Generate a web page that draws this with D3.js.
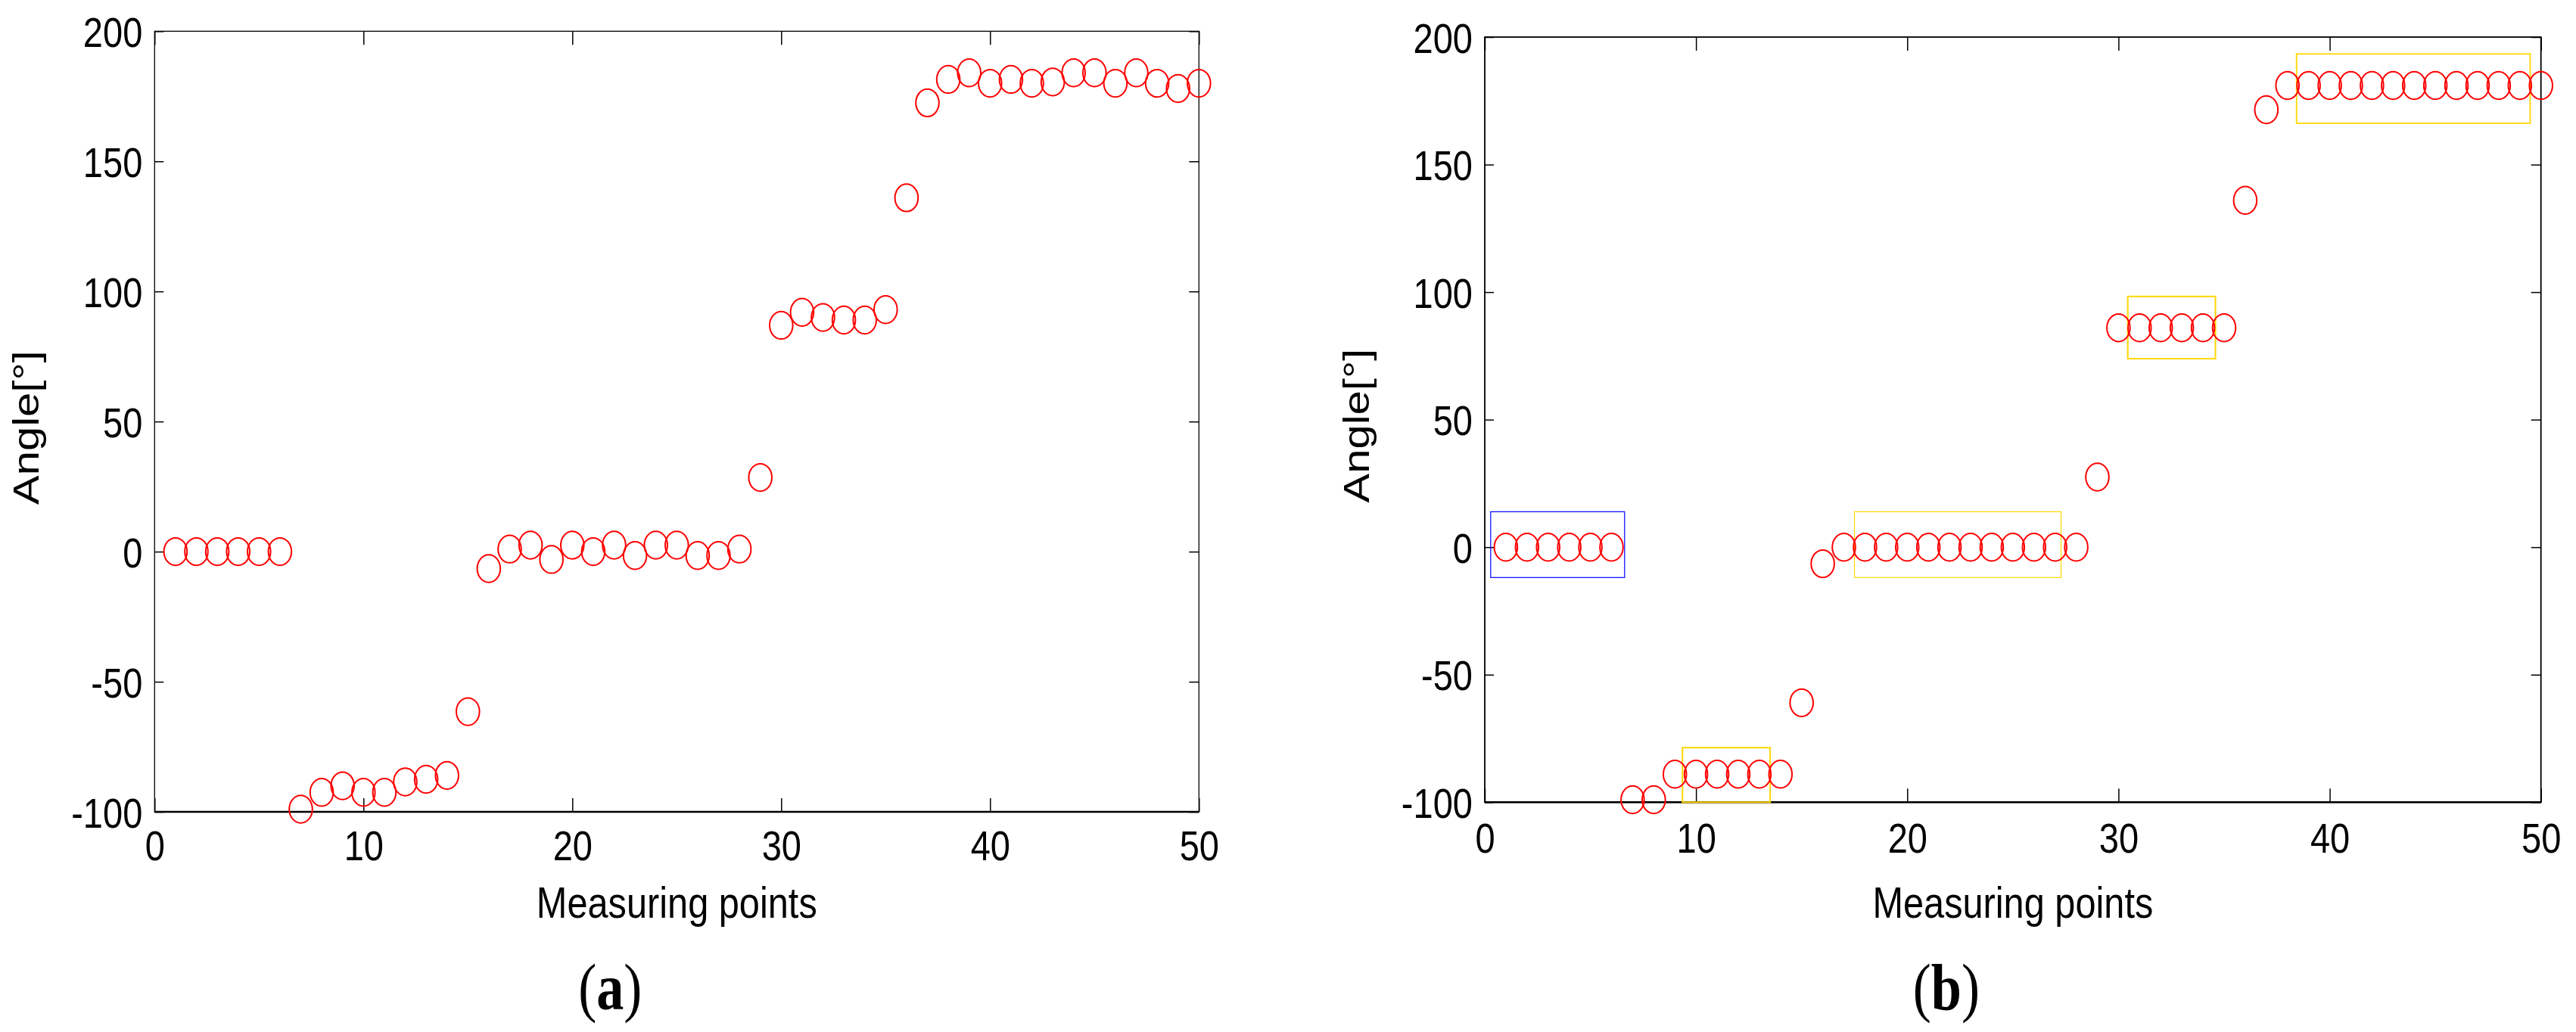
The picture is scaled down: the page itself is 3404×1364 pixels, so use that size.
<!DOCTYPE html>
<meta charset="utf-8">
<style>
  body { margin: 0; background: #fff; }
  svg { font-family: "Liberation Sans", Arial, sans-serif; }
  .tick line { stroke: #000; stroke-width: 1.5; }
</style>
<svg width="3404" height="1364"></svg>
<script src="https://cdn.jsdelivr.net/npm/d3@7"></script>
<script>

// measuring point numbers 1..50
var pointNos = [1,2,3,4,5,6,7,8,9,10,11,12,13,14,15,16,17,18,19,20,
  21,22,23,24,25,26,27,28,29,30,31,32,33,34,35,36,37,38,39,40,
  41,42,43,44,45,46,47,48,49,50];

// (a) raw angles
var anglesA = [0,0,0,0,0,0,-99,-92.5,-90,-92.5,
  -92.5,-88.5,-87.5,-86,-61.5,-6.5,1,2.5,-3,2.5,
  0,2.5,-1.5,2.5,2.5,-1.5,-1.5,1,28.5,87,
  92,90,89,89,93,136,172.5,181.5,184,180,
  181.5,180,180.5,184,184,180,184,180,178,180];

// (b) corrected angles
var anglesB = [0,0,0,0,0,0,-99,-99,-89,-89,
  -89,-89,-89,-89,-61,-6.5,0,0,0,0,
  0,0,0,0,0,0,0,0,27.5,86,
  86,86,86,86,86,136,171.5,181,181,181,
  181,181,181,181,181,181,181,181,181,181];

var xTicks = [0, 10, 20, 30, 40, 50];
var yTicks = [-100, -50, 0, 50, 100, 150, 200];

// group boxes in (b): [x0, x1, y0, y1] in data units
var boxesB = [[0.28, 6.62, -11.9, 13.9],
              [9.36, 13.51, -100, -78.6],
              [17.5, 27.28, -11.9, 13.9],
              [30.44, 34.59, 73.9, 98.3],
              [38.43, 49.49, 166.2, 193.4]];
var boxColors = ["#0000ff", "#ffd700", "#ffd700", "#ffd700", "#ffd700"];
var boxWidths = [1.2, 2, 1.2, 2, 1.8];

var svg = d3.select("svg");
var squeeze = 0.84; // the figure is narrower than it is tall
var plain = function(d) { return String(d); }; // hyphen minus like the original

function drawPanel(p, values, boxes) {
  var x = d3.scaleLinear().domain([0, 50]).range([p.left, p.right]);
  var y = d3.scaleLinear().domain([-100, 200]).range([p.bottom, p.top]);
  var g = svg.append("g");

  // ticks (inside, on all four sides)
  var gx = g.append("g").attr("transform", "translate(0," + p.bottom + ")")
    .call(d3.axisBottom(x).tickValues(xTicks).tickFormat(plain).tickSizeInner(-18).tickSizeOuter(0));
  gx.select(".domain").remove();
  gx.selectAll("text")
    .attr("y", null).attr("dy", null)
    .attr("transform", "translate(0," + p.xLabOff + ") scale(" + squeeze + ",1)")
    .style("font-size", "56px").attr("fill", "#000");

  var gxt = g.append("g").attr("transform", "translate(0," + p.top + ")")
    .call(d3.axisTop(x).tickValues(xTicks).tickSizeInner(-18).tickSizeOuter(0).tickFormat(""));
  gxt.select(".domain").remove();

  var gy = g.append("g").attr("transform", "translate(" + p.left + ",0)")
    .call(d3.axisLeft(y).tickValues(yTicks).tickFormat(plain).tickSizeInner(-12).tickSizeOuter(0));
  gy.select(".domain").remove();
  gy.selectAll("text")
    .attr("x", null).attr("dy", "0.36em")
    .attr("transform", "translate(-16,0) scale(" + squeeze + ",1)")
    .style("font-size", "56px").attr("fill", "#000");

  var gyr = g.append("g").attr("transform", "translate(" + p.right + ",0)")
    .call(d3.axisRight(y).tickValues(yTicks).tickSizeInner(-13).tickSizeOuter(0).tickFormat(""));
  gyr.select(".domain").remove();

  // axes box
  g.append("rect")
    .attr("x", p.left).attr("y", p.top)
    .attr("width", p.right - p.left).attr("height", p.bottom - p.top)
    .attr("fill", "none").attr("stroke", "#000").attr("stroke-width", p.boxW);
  g.append("line")
    .attr("x1", p.left).attr("x2", p.right)
    .attr("y1", p.bottom).attr("y2", p.bottom)
    .attr("stroke", "#000").attr("stroke-width", 2.4);

  // group boxes
  g.selectAll(".box").data(boxes || []).enter().append("rect")
    .attr("class", "box")
    .attr("x", function(d) { return x(d[0]); })
    .attr("y", function(d) { return y(d[3]); })
    .attr("width", function(d) { return x(d[1]) - x(d[0]); })
    .attr("height", function(d) { return y(d[2]) - y(d[3]); })
    .attr("fill", "none")
    .attr("stroke", function(d, i) { return boxColors[i]; })
    .attr("stroke-width", function(d, i) { return boxWidths[i]; });

  // markers
  g.selectAll(".pt").data(values).enter().append("ellipse")
    .attr("class", "pt")
    .attr("cx", function(d, i) { return x(pointNos[i]); })
    .attr("cy", function(d) { return y(d); })
    .attr("rx", 15.3).attr("ry", 18.2)
    .attr("fill", "none").attr("stroke", "#ff0000").attr("stroke-width", 2);

  // axis titles
  var mid = (p.left + p.right) / 2;
  g.append("text")
    .attr("transform", "translate(" + mid + ",1213) scale(" + squeeze + ",1)")
    .attr("text-anchor", "middle")
    .style("font-size", "58px")
    .text("Measuring points");

  g.append("text")
    .attr("transform", "translate(" + (p.left - 153) + "," + ((p.top + p.bottom) / 2 + 8) + ") scale(" + squeeze + ",1) rotate(-90)")
    .attr("text-anchor", "middle")
    .style("font-size", "58px")
    .text("Angle[°]");

  // caption
  g.append("text")
    .attr("transform", "translate(" + (mid - 88) + ",1334) scale(" + squeeze + ",1)")
    .attr("text-anchor", "middle")
    .style("font-family", "'Liberation Serif', 'Times New Roman', serif")
    .style("font-size", "86px")
    .html(p.caption);
}

drawPanel({left: 204.3, right: 1584.3, top: 41.3, bottom: 1073, xLabOff: 64, boxW: 1.3,
  caption: "(<tspan font-weight='bold'>a</tspan>)"}, anglesA, null);
drawPanel({left: 1962, right: 3357.7, top: 49, bottom: 1060.3, xLabOff: 67, boxW: 1.8,
  caption: "(<tspan font-weight='bold'>b</tspan>)"}, anglesB, boxesB);

</script>
